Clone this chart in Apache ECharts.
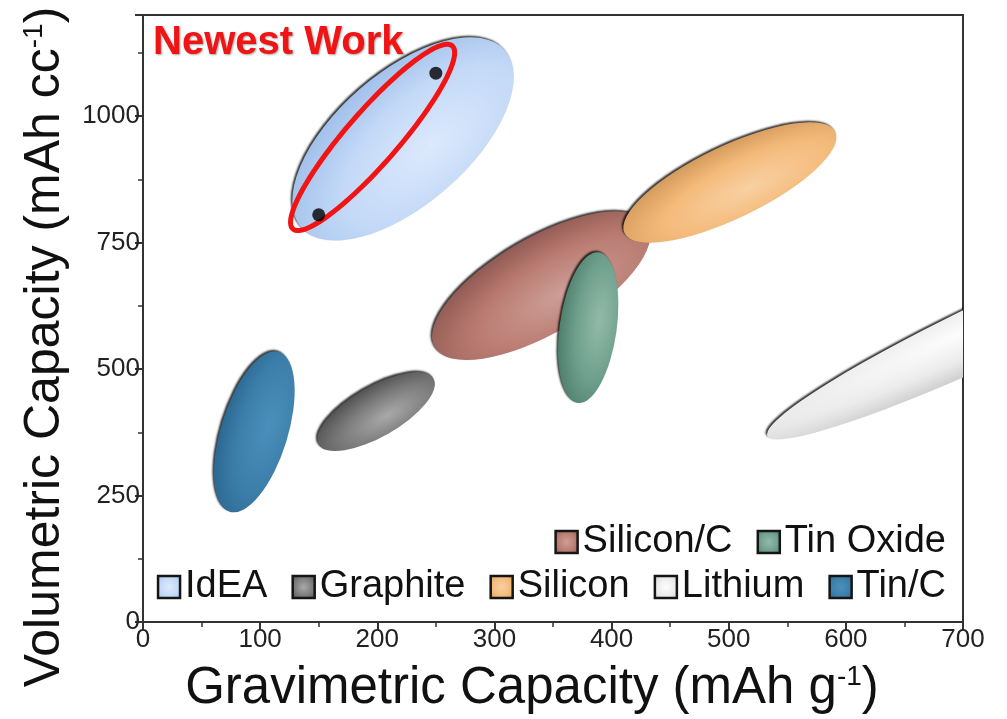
<!DOCTYPE html>
<html><head><meta charset="utf-8">
<script src="https://cdn.jsdelivr.net/npm/echarts@6/dist/echarts.min.js"></script>
<style>html,body{margin:0;padding:0;background:#fff}#c{width:1007px;height:719px}</style>
</head><body><div id="c"></div>
<script>
// ---- data ----
const materials = ['IdEA', 'Graphite', 'Silicon/C', 'Silicon', 'Tin Oxide', 'Lithium', 'Tin/C'];
// ellipse centre (gravimetric mAh/g, volumetric mAh/cc)
const centerX = [222, 199, 340, 501, 380, 736, 95];
const centerY = [955, 416, 665, 869, 582, 588, 376];
// one end of the major axis
const endX = [309, 248, 431, 591, 389, 533, 116];
const endY = [1130, 481, 787, 969, 731, 368, 534];
// minor / major axis ratio
const aspect = [0.49, 0.38, 0.39, 0.31, 0.375, 0.118, 0.40];
// newest work points
const newestX = [150, 250];
const newestY = [805, 1085];
const newestCenter = [196, 958];
const newestEnd = [264, 1139];
const newestAspect = 0.215;
// legend rows
const legendRow1 = ['Silicon/C', 'Tin Oxide'];
const legendRow2 = ['IdEA', 'Graphite', 'Silicon', 'Lithium', 'Tin/C'];
const xTicks = [0, 100, 200, 300, 400, 500, 600, 700];
const yTicks = [0, 250, 500, 750, 1000];

// ---- styles ----
const shades = {
  'IdEA':      ['#dde9fc', '#c3d9f7', '#9dbde9'],
  'Graphite':  ['#a9a9a9', '#7a7a7a', '#4f4f4f'],
  'Silicon/C': ['#cd9f97', '#b97b71', '#8c5750'],
  'Silicon':   ['#f8d0a2', '#f4ba7a', '#d0985a'],
  'Tin Oxide': ['#93baa9', '#6fa08d', '#4b7b69'],
  'Lithium':   ['#fdfdfd', '#ebebeb', '#c9c9c9'],
  'Tin/C':     ['#4b8fbc', '#3d7fab', '#296690']
};
function grad(name, cx, cy, r) {
  const s = shades[name];
  return new echarts.graphic.RadialGradient(cx, cy, r, [
    { offset: 0, color: s[0] }, { offset: 0.55, color: s[1] }, { offset: 1, color: s[2] }
  ]);
}
const FONT = '"Liberation Sans", Arial, Helvetica, sans-serif';

function ellipseRender(name) {
  return function (params, api) {
    const c = api.coord([api.value(0), api.value(1)]);
    const e = api.coord([api.value(2), api.value(3)]);
    const dx = e[0] - c[0], dy = e[1] - c[1];
    const a = Math.hypot(dx, dy);
    const b = a * api.value(4);
    return {
      type: 'circle',
      x: c[0], y: c[1],
      rotation: Math.atan2(-dy, dx),
      scaleX: 1, scaleY: b / a,
      shape: { cx: 0, cy: 0, r: a },
      style: {
        fill: grad(name, 0.56, 0.68, 0.72),
        shadowBlur: 2, shadowOffsetX: -1.5, shadowOffsetY: -1.5,
        shadowColor: 'rgba(0,0,0,0.8)'
      }
    };
  };
}

const series = materials.map((m, i) => ({
  name: m,
  type: 'custom',
  clip: true,
  renderItem: ellipseRender(m),
  itemStyle: { color: grad(m, 0.5, 0.5, 0.7) },
  data: [[centerX[i], centerY[i], endX[i], endY[i], aspect[i]]],
  z: 2
}));

series.push({
  name: 'newestRing',
  type: 'custom',
  clip: true,
  renderItem: function (params, api) {
    const c = api.coord([api.value(0), api.value(1)]);
    const e = api.coord([api.value(2), api.value(3)]);
    const dx = e[0] - c[0], dy = e[1] - c[1];
    const a = Math.hypot(dx, dy);
    const b = a * api.value(4);
    const ux = dx / a, uy = dy / a;
    const nx = -uy, ny = ux;
    const pts = [];
    for (let k = 0; k < 120; k++) {
      const t = k / 120 * Math.PI * 2;
      const p = a * Math.cos(t), q = b * Math.sin(t);
      pts.push([c[0] + p * ux + q * nx, c[1] + p * uy + q * ny]);
    }
    return {
      type: 'polygon', shape: { points: pts },
      style: { fill: 'none', stroke: '#f01414', lineWidth: 5 }
    };
  },
  data: [[newestCenter[0], newestCenter[1], newestEnd[0], newestEnd[1], newestAspect]],
  z: 4
});

series.push({
  name: 'Newest points',
  type: 'scatter',
  symbolSize: 13,
  itemStyle: { color: '#000' },
  data: newestX.map((x, i) => [x, newestY[i]]),
  z: 5
});

const legendCommon = {
  orient: 'horizontal',
  right: 56,
  icon: 'rect',
  itemWidth: 22, itemHeight: 22, itemGap: 24,
  selectedMode: false,
  itemStyle: { borderColor: '#151515', borderWidth: 2.5 },
  textStyle: { fontSize: 38, color: '#111', fontFamily: FONT }
};

const option = {
  backgroundColor: '#fff',
  animation: false,
  grid: { left: 143, right: 44, top: 15, bottom: 97, show: true, borderColor: '#333', borderWidth: 2, backgroundColor: 'transparent' },
  xAxis: {
    type: 'value', min: xTicks[0], max: xTicks[xTicks.length - 1], interval: 100,
    axisLine: { show: true, lineStyle: { color: '#333', width: 2 } },
    axisTick: { show: true, length: 8, lineStyle: { color: '#333', width: 2 } },
    minorTick: { show: true, splitNumber: 2, length: 5, lineStyle: { color: '#333', width: 1.5 } },
    splitLine: { show: false },
    axisLabel: { fontSize: 26, color: '#222', margin: 5, fontFamily: FONT }
  },
  yAxis: {
    type: 'value', min: 0, max: 1200, interval: 250,
    axisLine: { show: true, lineStyle: { color: '#333', width: 2 } },
    axisTick: { show: true, length: 8, lineStyle: { color: '#333', width: 2 } },
    minorTick: { show: true, splitNumber: 2, length: 5, lineStyle: { color: '#333', width: 1.5 } },
    splitLine: { show: false },
    axisLabel: { fontSize: 26, color: '#222', margin: 3, fontFamily: FONT,
      formatter: v => (yTicks.indexOf(v) >= 0 ? String(v) : '') }
  },
  legend: [
    Object.assign({}, legendCommon, { data: legendRow1, top: 518 }),
    Object.assign({}, legendCommon, { data: legendRow2, top: 563 })
  ],
  graphic: [
    {
      type: 'text', x: 153, y: 43, z: 10,
      style: {
        text: 'Newest Work', fill: '#f01414', font: 'bold 40px ' + FONT,
        textAlign: 'left', textVerticalAlign: 'middle', verticalAlign: 'middle',
        textShadowColor: 'rgba(0,0,0,0.35)', textShadowBlur: 2, textShadowOffsetX: 1, textShadowOffsetY: 1
      }
    },
    {
      type: 'text', x: 532, y: 689, z: 10,
      style: {
        text: 'Gravimetric Capacity (mAh g{sup|-1})',
        fill: '#111', fontSize: 51, fontFamily: FONT,
        align: 'center', verticalAlign: 'middle',
        rich: { sup: { fontSize: 28, fontFamily: FONT, fill: '#111', verticalAlign: 'top', padding: [0, 0, 18, 0] } }
      }
    },
    {
      type: 'text', x: 45, y: 347, z: 10, rotation: Math.PI / 2,
      style: {
        text: 'Volumetric Capacity (mAh cc{sup|-1})',
        fill: '#111', fontSize: 50, fontFamily: FONT,
        align: 'center', verticalAlign: 'middle',
        rich: { sup: { fontSize: 28, fontFamily: FONT, fill: '#111', verticalAlign: 'top', padding: [0, 0, 18, 0] } }
      }
    }
  ],
  series: series
};

const chart = echarts.init(document.getElementById('c'), null, { renderer: 'canvas' });
chart.setOption(option);
</script>
</body></html>
